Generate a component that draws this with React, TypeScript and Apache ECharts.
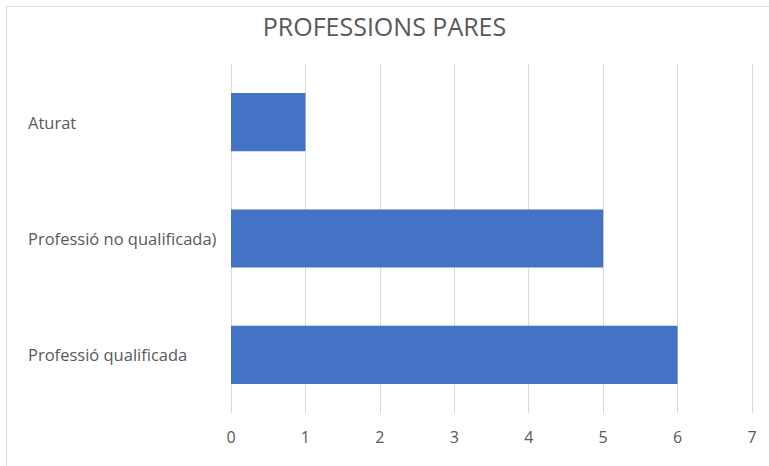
import React, { useEffect, useRef } from "react";
import * as echarts from "echarts";

const categories = ["Professió qualificada", "Professió no qualificada)", "Aturat"];
const values = [6, 5, 1];
const titleText = "PROFESSIONS PARES";

export default function App() {
  const ref = useRef<HTMLDivElement>(null);
  useEffect(() => {
    if (!ref.current) return;
    const chart = echarts.init(ref.current, null, { renderer: "svg" });
    const font = "'Open Sans', 'Noto Sans', sans-serif";
    chart.setOption({
      animation: false,
      backgroundColor: "#ffffff",
      title: {
        text: titleText,
        left: "center",
        top: 8,
        textStyle: { color: "#595959", fontSize: 25, fontWeight: "normal", fontFamily: font },
      },
      graphic: [
        {
          type: "rect",
          shape: { x: 6.5, y: 6.5, width: 800, height: 500 },
          style: { fill: "none", stroke: "#d9d9d9", lineWidth: 1 },
          silent: true,
          z: -1,
        },
      ],
      grid: { left: 231, right: 17, top: 64, bottom: 53, containLabel: false },
      xAxis: {
        type: "value",
        min: 0,
        max: 7,
        interval: 1,
        axisLine: { show: false },
        axisTick: { show: false },
        splitLine: { show: true, lineStyle: { color: "#d9d9d9", width: 1 } },
        axisLabel: { color: "#595959", fontSize: 16, fontFamily: font, margin: 16 },
      },
      yAxis: {
        type: "category",
        data: categories,
        axisLine: { show: false },
        axisTick: { show: false },
        axisLabel: {
          color: "#595959",
          fontSize: 16.5,
          fontFamily: font,
          align: "left",
          margin: 203,
        },
      },
      series: [
        {
          type: "bar",
          data: values,
          barWidth: "50%",
          itemStyle: { color: "#4472C4" },
        },
      ],
    });
    return () => chart.dispose();
  }, []);
  return (
    <div
      ref={ref}
      style={{ position: "absolute", left: 0, top: 0, width: 769, height: 466 }}
    />
  );
}
